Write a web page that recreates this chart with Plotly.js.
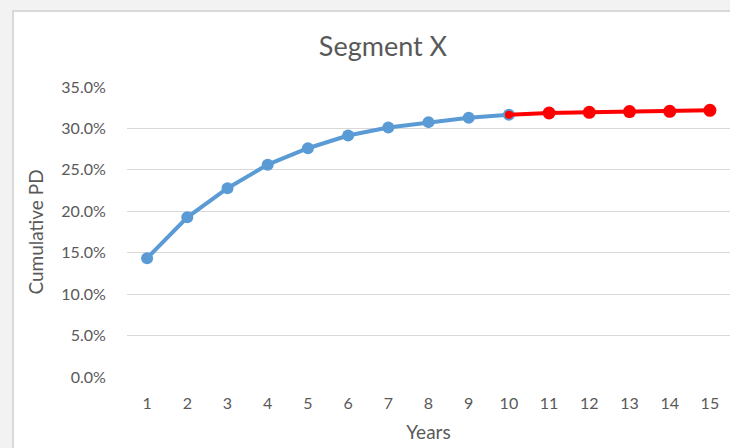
<!DOCTYPE html>
<html>
<head>
<meta charset="utf-8">
<script src="https://cdn.plot.ly/plotly-3.0.1.min.js"></script>
<style>
  html, body { margin: 0; padding: 0; width: 730px; height: 448px; overflow: hidden; background: #f2f2f2; }
  #frame { position: absolute; left: 12px; top: 10px; width: 730px; height: 450px; background: #ffffff; border-left: 2px solid #d9d9d9; border-top: 2px solid #d9d9d9; }
  #chart { position: absolute; left: 0; top: 0; width: 730px; height: 448px; }
</style>
</head>
<body>
<div id="frame"></div>
<div id="chart"></div>
<script>
const yearsHist = [1, 2, 3, 4, 5, 6, 7, 8, 9, 10];
const pdHist = [0.1434, 0.1927, 0.2279, 0.2563, 0.2761, 0.2915, 0.3012, 0.3076, 0.3129, 0.3165];
const yearsExt = [10, 11, 12, 13, 14, 15];
const pdExt = [0.3165, 0.3186, 0.3194, 0.3203, 0.3206, 0.3218];
const xTicks = [1, 2, 3, 4, 5, 6, 7, 8, 9, 10, 11, 12, 13, 14, 15];
const yTicks = [0, 0.05, 0.10, 0.15, 0.20, 0.25, 0.30, 0.35];

const font = "Lato, 'Open Sans', sans-serif";
const grey = '#595959';

const traces = [
  {
    x: yearsHist, y: pdHist, type: 'scatter', mode: 'lines+markers',
    line: { color: '#5b9bd5', width: 4 },
    marker: { color: '#5b9bd5', size: 12, opacity: 1, line: { width: 0 } },
    hoverinfo: 'skip'
  },
  {
    x: yearsExt, y: pdExt, type: 'scatter', mode: 'lines+markers',
    line: { color: '#ff0000', width: 4 },
    marker: { color: '#ff0000', size: [8, 13, 13, 13, 13, 13], opacity: 1, line: { width: 0 } },
    hoverinfo: 'skip'
  }
];

const layout = {
  width: 730, height: 448,
  margin: { l: 127, r: 0, t: 87, b: 71, pad: 0 },
  paper_bgcolor: 'rgba(0,0,0,0)',
  plot_bgcolor: 'rgba(0,0,0,0)',
  showlegend: false,
  font: { family: font, color: grey, size: 16 },
  title: {
    text: 'Segment X',
    font: { family: font, size: 27, color: grey },
    xref: 'container', yref: 'container',
    x: 383 / 730, xanchor: 'center',
    y: 1 - 47 / 448, yanchor: 'middle'
  },
  xaxis: {
    range: [0.5, 15.5],
    tickmode: 'array', tickvals: xTicks, ticktext: xTicks.map(String),
    showgrid: false, zeroline: false, showline: false,
    ticks: 'outside', ticklen: 12, tickcolor: 'rgba(0,0,0,0)',
    tickfont: { family: font, size: 16, color: grey },
    title: { text: 'Years', font: { family: font, size: 19, color: grey }, standoff: 14 }
  },
  yaxis: {
    range: [0, 0.35],
    tickmode: 'array', tickvals: yTicks,
    tickformat: '.1%',
    showgrid: true, gridcolor: '#d9d9d9', gridwidth: 1,
    zeroline: false, showline: false,
    ticks: 'outside', ticklen: 17, tickcolor: 'rgba(0,0,0,0)',
    tickfont: { family: font, size: 16, color: grey },
    title: { text: 'Cumulative PD', font: { family: font, size: 19, color: grey }, standoff: 12 }
  }
};

Plotly.newPlot('chart', traces, layout, { displayModeBar: false, staticPlot: true });
</script>
</body>
</html>
